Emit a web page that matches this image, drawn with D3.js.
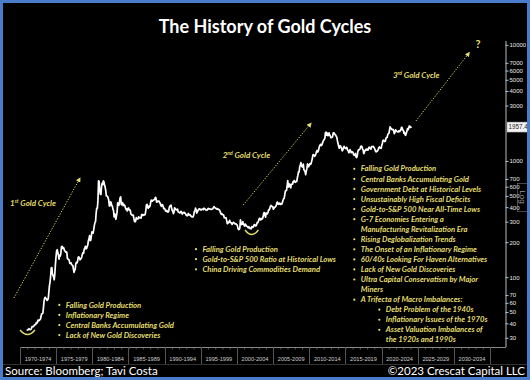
<!DOCTYPE html>
<html><head><meta charset="utf-8">
<script src="https://cdn.jsdelivr.net/npm/d3@7/dist/d3.min.js"></script>
<style>
html,body{margin:0;padding:0;background:#000;}
svg{display:block;}
</style></head><body>
<svg id="chart" width="530" height="380"></svg>
<script>
// ---------- DATA ----------
const periods = ['1970-1974','1975-1979','1980-1984','1985-1989','1990-1994','1995-1999','2000-2004','2005-2009','2010-2014','2015-2019','2020-2024','2025-2029','2030-2034'];
const yTickValues = [30,40,50,60,70,100,200,300,400,500,600,700,1000,3000,4000,5000,6000,7000,10000];
const lastValue = 1957.44;
// monthly gold price (USD/oz), starting Jan of the first year of each decade
const gold1970s = [
34.9,35.0,35.1,35.6,35.9,35.4,35.3,35.4,36.2,37.5,37.4,37.4,
37.9,38.7,38.9,39.0,40.5,40.1,41.0,42.7,42.0,42.5,42.9,43.5,
46.0,48.3,48.3,49.0,54.6,62.1,65.7,67.0,65.5,64.9,62.9,63.9,
65.1,74.2,84.4,90.5,102.0,120.1,120.5,106.8,103.0,100.1,94.8,106.7,
129.2,150.2,168.4,172.2,163.3,154.1,143.0,154.6,151.8,158.8,181.7,183.9,
176.3,179.6,178.2,169.9,167.4,164.2,165.2,163.1,144.1,142.8,142.2,139.3,
131.1,131.0,132.5,128.3,126.4,125.8,117.7,109.9,114.2,116.7,130.3,133.8,
132.3,136.4,148.4,149.2,146.7,140.8,143.4,144.4,149.1,158.0,162.1,160.4,
173.1,178.1,183.7,175.1,176.3,183.7,188.7,206.2,212.5,227.3,206.1,207.8,
227.3,245.7,242.1,239.2,257.6,279.1,294.7,300.8,355.2,391.7,392.5,455.1];
const gold1980s = [
675.3,665.3,553.6,517.4,513.8,600.7,644.3,626.5,673.6,661.1,623.5,594.9,
557.6,500.5,498.9,494.9,479.7,460.8,409.3,410.2,443.6,437.8,413.4,410.1,
384.2,374.2,330.2,350.5,333.8,314.9,338.6,364.3,435.2,422.2,414.1,444.3,
481.4,490.4,419.7,432.8,438.4,412.9,422.7,416.2,411.8,393.6,381.7,388.0,
370.9,386.2,394.3,381.2,377.6,377.6,347.7,347.7,341.1,340.2,341.2,320.2,
302.7,299.2,304.3,324.7,316.3,316.9,317.1,330.0,323.3,325.0,325.3,322.1,
345.4,338.9,345.7,340.4,342.6,342.6,348.2,376.5,418.0,423.1,398.6,391.3,
408.3,401.1,408.9,438.4,460.1,449.7,450.5,460.2,460.0,465.4,467.4,486.3,
477.0,442.1,443.6,451.7,451.2,451.3,437.4,432.7,413.4,406.7,420.1,418.7,
404.0,388.0,390.2,384.1,371.1,367.6,375.0,365.4,362.0,366.7,394.3,409.4];
const gold1990s = [
410.1,416.8,393.1,374.3,369.1,352.3,362.5,394.7,389.3,380.8,381.8,378.2,
383.6,363.8,363.3,358.4,356.8,366.7,367.7,356.3,348.7,358.7,359.9,361.3,
354.5,353.9,344.3,338.6,337.2,340.8,353.1,342.9,345.4,344.4,335.0,334.8,
329.0,329.3,330.1,342.2,367.2,371.9,392.0,378.9,355.3,364.2,373.8,383.3,
386.9,381.9,384.1,377.3,381.4,385.6,385.5,380.4,391.6,389.8,384.4,379.3,
378.6,376.5,382.1,391.0,385.2,387.6,386.2,383.7,383.1,383.1,385.5,387.4,
399.5,404.8,396.2,392.9,392.0,385.3,383.5,387.5,383.1,381.1,377.9,369.3,
354.1,346.6,351.8,344.5,343.8,340.8,324.1,323.8,322.8,325.0,306.0,288.7,
289.1,297.5,295.9,308.4,299.4,292.3,292.9,284.1,289.0,295.9,294.1,291.6,
287.1,287.3,285.9,282.6,276.4,261.3,256.1,256.7,264.7,310.7,293.2,283.1];
const gold2000s = [
284.6,299.9,286.4,280.0,275.3,285.7,281.6,274.5,273.7,270.0,266.0,271.5,
265.5,261.9,263.0,260.5,272.4,270.2,268.0,272.4,283.4,283.1,276.2,275.9,
281.7,295.5,294.0,302.7,314.5,321.2,313.3,310.3,319.2,316.6,319.2,333.4,
356.9,359.0,340.6,328.2,355.7,356.4,351.0,359.8,378.9,378.9,389.9,407.6,
414.0,405.3,406.7,403.0,383.8,392.4,398.1,400.5,405.3,420.5,439.4,442.1,
424.0,423.4,434.2,428.9,421.9,430.7,424.5,437.9,456.0,469.9,476.7,509.8,
549.9,555.0,557.1,610.7,676.5,596.2,633.8,632.6,598.2,585.8,627.8,629.8,
631.2,664.8,654.9,679.4,666.9,655.5,665.3,665.4,712.7,754.6,806.3,803.2,
889.6,922.3,968.4,909.7,888.7,889.5,939.8,839.0,829.9,806.6,760.9,816.1,
858.7,943.2,924.3,890.2,928.6,945.7,934.2,949.4,996.6,1043.2,1127.0,1134.7];
const gold2010s = [
1117.9,1095.4,1113.3,1148.7,1205.4,1232.9,1193.0,1215.8,1271.0,1342.0,1369.9,1390.6,
1356.4,1372.7,1424.0,1473.8,1510.4,1528.7,1572.8,1755.8,1771.9,1665.2,1738.9,1652.3,
1656.1,1742.6,1673.8,1650.1,1585.5,1596.7,1594.3,1630.3,1744.5,1746.6,1721.6,1684.8,
1671.9,1627.6,1593.1,1487.9,1414.0,1343.4,1285.5,1351.7,1348.6,1316.6,1275.8,1221.5,
1244.3,1299.6,1336.1,1298.5,1287.5,1279.1,1310.6,1295.1,1236.6,1222.5,1176.3,1200.4,
1250.8,1227.1,1178.6,1198.9,1198.6,1181.5,1130.7,1117.9,1124.8,1159.3,1086.4,1068.3,
1097.4,1199.5,1245.1,1242.3,1260.9,1276.4,1336.7,1340.2,1326.6,1266.6,1238.4,1157.4,
1192.1,1234.2,1231.1,1266.9,1246.0,1260.3,1236.8,1283.0,1314.1,1279.5,1281.9,1264.5,
1331.3,1330.7,1324.7,1334.8,1303.5,1281.6,1237.7,1201.7,1198.4,1215.4,1220.7,1250.4,
1291.8,1320.1,1300.9,1285.9,1283.7,1359.0,1412.9,1500.4,1510.6,1494.8,1470.0,1479.1];
const gold2020s = [
1560.7,1597.1,1591.9,1683.2,1715.9,1732.2,1846.5,1968.6,1921.9,1900.3,1866.3,1858.4,
1867.0,1808.2,1718.2,1760.0,1850.3,1834.6,1807.8,1785.3,1775.1,1776.9,1821.4,1790.4,
1816.8,1856.3,1947.8,1936.9,1848.5,1836.6,1732.7,1764.6,1680.7,1664.5,1725.6,1797.6,
1898.0,1854.2,1912.7,1999.9,1991.8,1942.9,1951.0,1957.44];

// Annotation texts
const leftNotes = ['Falling Gold Production','Inflationary Regime','Central Banks Accumulating Gold','Lack of New Gold Discoveries'];
const midNotes = ['Falling Gold Production','Gold-to-S&P 500 Ratio at Historical Lows','China Driving Commodities Demand'];
const rightNotes = [
 {text:'Falling Gold Production', level:0, bullet:true},
 {text:'Central Banks Accumulating Gold', level:0, bullet:true},
 {text:'Government Debt at Historical Levels', level:0, bullet:true},
 {text:'Unsustainably High Fiscal Deficits', level:0, bullet:true},
 {text:'Gold-to-S&P 500 Near All-Time Lows', level:0, bullet:true},
 {text:'G-7 Economies Entering a', level:0, bullet:true},
 {text:'Manufacturing Revitalization Era', level:0, bullet:false},
 {text:'Rising Deglobalization Trends', level:0, bullet:true},
 {text:'The Onset of an Inflationary Regime', level:0, bullet:true},
 {text:'60/40s Looking For Haven Alternatives', level:0, bullet:true},
 {text:'Lack of New Gold Discoveries', level:0, bullet:true},
 {text:'Ultra Capital Conservatism by Major', level:0, bullet:true},
 {text:'Miners', level:0, bullet:false},
 {text:'A Trifecta of Macro Imbalances:', level:0, bullet:true},
 {text:'Debt Problem of the 1940s', level:1, bullet:true},
 {text:'Inflationary Issues of the 1970s', level:1, bullet:true},
 {text:'Asset Valuation Imbalances of', level:1, bullet:true},
 {text:'the 1920s and 1990s', level:1, bullet:false}
];
// Cycle labels and arrows, in chart coordinates [year, price]
const cycleLabels = [
 {n:'1', sup:'st', at:[1967.68, 410]},
 {n:'2', sup:'nd', at:[1997.28, 1061]},
 {n:'3', sup:'rd', at:[2020.98, 5187]}
];
const cycleArrows = [
 [[1968.23, 66.1],[1977.42, 713]],
 [[2000.15, 418],[2009.57, 2113]],
 [[2024.18, 2211],[2031.60, 8567]]
];
const questionAt = [2032.81, 9310];
const smiles = [ {at:[1970.11, 35.0], half:7.5}, {at:[2001.32, 254.5], half:6.7} ];
const noteAnchors = { left:[1974.40, 54.7], mid:[1993.42, 165.2], right:[2015.46, 812] };

// ---------- SETUP ----------
const W = 530, H = 380;
const YEL = '#e4de70';
const svg = d3.select('#chart');
svg.append('rect').attr('width', W).attr('height', H).attr('fill', '#000');

const series = [];
[[1970,gold1970s],[1980,gold1980s],[1990,gold1990s],[2000,gold2000s],[2010,gold2010s],[2020,gold2020s]]
  .forEach(([y0, arr]) => arr.forEach((v, i) => series.push({t: y0 + i/12, v})));

const xBand = d3.scaleBand().domain(periods).range([20, 490]);
const xYear = d3.scaleLinear().domain([1970, 2035]).range([20, 490]);
const xT = d3.scaleLinear().domain([1970, 2035]).range([26.7, 493.7]);
const y = d3.scaleLog().domain([25, 11000]).range([347, 40]);

// ---------- TITLE ----------
svg.append('text').attr('x', 265).attr('y', 33).attr('text-anchor', 'middle')
  .attr('font-family', 'Lato').attr('font-weight', 'bold').attr('font-size', 18)
  .attr('fill', '#fff').text('The History of Gold Cycles');

// ---------- X AXIS ----------
const xg = svg.append('g');
xg.append('line').attr('x1', 20).attr('x2', 506).attr('y1', 347.5).attr('y2', 347.5).attr('stroke', '#888').attr('stroke-width', 1);
xg.selectAll('line.minor').data(d3.range(1970, 2036)).join('line').attr('class','minor')
  .attr('x1', d => xYear(d) + 0.5).attr('x2', d => xYear(d) + 0.5).attr('y1', 347).attr('y2', 349.5)
  .attr('stroke', '#888').attr('stroke-width', 0.6);
xg.selectAll('line.sep').data(periods.concat(['end'])).join('line').attr('class','sep')
  .attr('x1', (d,i) => Math.round(20 + i*xBand.step()) + 0.5)
  .attr('x2', (d,i) => Math.round(20 + i*xBand.step()) + 0.5)
  .attr('y1', 347).attr('y2', 364).attr('stroke', '#555').attr('stroke-width', 1);
xg.selectAll('text').data(periods).join('text')
  .attr('x', d => xBand(d) + xBand.bandwidth()/2).attr('y', 361)
  .attr('text-anchor', 'middle').attr('font-family', 'Liberation Sans').attr('font-size', 5.6)
  .attr('fill', '#cfcfcf').text(d => d);

// ---------- Y AXIS ----------
const yAxis = d3.axisRight(y).tickValues(yTickValues).tickFormat(d3.format('d')).tickSize(3).tickPadding(1);
const yg = svg.append('g').attr('transform', 'translate(505.5,0)').call(yAxis);
yg.select('.domain').attr('stroke', '#bbb').attr('d', `M0.5,${y.range()[1]+1}V${y.range()[0]}`);
yg.selectAll('.tick line').attr('stroke', '#bbb');
yg.selectAll('.tick text').attr('fill', '#e8e8e8').attr('font-family', 'Liberation Sans').attr('font-size', 6);
// last value box
const ly = y(lastValue);
svg.append('rect').attr('x', 507).attr('y', ly - 5).attr('width', 24).attr('height', 10)
  .attr('fill', '#f2f2f2').attr('stroke', '#999').attr('stroke-width', 0.5);
svg.append('text').attr('x', 508.5).attr('y', ly + 2.2).attr('font-family', 'Liberation Sans')
  .attr('font-size', 6.3).attr('fill', '#222').text(lastValue.toFixed(2));
// Log label
svg.append('rect').attr('x', 517.5).attr('y', 183.5).attr('width', 10).attr('height', 28)
  .attr('fill', 'none').attr('stroke', '#777').attr('stroke-width', 0.6);
svg.append('text').attr('transform', 'translate(519.5,197) rotate(90)').attr('text-anchor', 'middle')
  .attr('font-family', 'Liberation Sans').attr('font-size', 8).attr('fill', '#999').text('Log');

// ---------- LINE ----------
svg.append('path').datum(series)
  .attr('d', d3.line().x(d => xT(d.t)).y(d => y(d.v)))
  .attr('fill', 'none').attr('stroke', '#fff').attr('stroke-width', 1.7).attr('stroke-linejoin', 'round');

// ---------- ANNOTATIONS ----------
const defs = svg.append('defs');
defs.append('marker').attr('id', 'ah').attr('viewBox', '0 0 10 10').attr('refX', 8).attr('refY', 5)
  .attr('markerWidth', 5).attr('markerHeight', 5).attr('markerUnits', 'userSpaceOnUse').attr('orient', 'auto')
  .append('path').attr('d', 'M0,0L10,5L0,10Z').attr('fill', YEL);

svg.selectAll('line.arrow').data(cycleArrows).join('line').attr('class', 'arrow')
  .attr('x1', d => xT(d[0][0])).attr('y1', d => y(d[0][1]))
  .attr('x2', d => xT(d[1][0])).attr('y2', d => y(d[1][1]))
  .attr('stroke', YEL).attr('stroke-width', 1).attr('stroke-dasharray', '1.2,1.6')
  .attr('marker-end', 'url(#ah)');

const labG = svg.selectAll('text.cyc').data(cycleLabels).join('text').attr('class', 'cyc')
  .attr('x', d => xT(d.at[0])).attr('y', d => y(d.at[1]))
  .attr('font-family', 'Lato').attr('font-style', 'italic').attr('font-weight', 'bold')
  .attr('font-size', 8).attr('fill', YEL);
labG.append('tspan').text(d => d.n);
labG.append('tspan').attr('dy', -3).attr('font-size', 5).text(d => d.sup);
labG.append('tspan').attr('dy', 3).text(' Gold Cycle');

svg.append('text').attr('x', xT(questionAt[0])).attr('y', y(questionAt[1])).attr('text-anchor', 'middle')
  .attr('font-family', 'Lato').attr('font-weight', 'bold').attr('font-size', 11).attr('fill', YEL).text('?');

svg.selectAll('path.smile').data(smiles).join('path').attr('class', 'smile')
  .attr('d', d => { const cx = xT(d.at[0]), cy = y(d.at[1]);
     return `M${cx - d.half},${cy}Q${cx},${cy + 9} ${cx + d.half},${cy}`; })
  .attr('fill', 'none').attr('stroke', YEL).attr('stroke-width', 1.4);

function noteList(items, anchor) {
  const bx = xT(anchor[0]), by = y(anchor[1]);
  const g = svg.append('g').attr('font-family', 'Lato').attr('font-style', 'italic')
     .attr('font-weight', 'bold').attr('font-size', 7.7).attr('fill', YEL);
  items.forEach((it, i) => {
    const o = typeof it === 'string' ? {text: it, level: 0, bullet: true} : it;
    const ind = o.level * 25;
    const yy = by + i * 10.06;
    if (o.bullet) g.append('circle').attr('cx', bx + ind + 1).attr('cy', yy - 2.6).attr('r', 1.1);
    g.append('text').attr('x', bx + ind + 7.5).attr('y', yy).text(o.text);
  });
}
noteList(leftNotes, noteAnchors.left);
noteList(midNotes, noteAnchors.mid);
noteList(rightNotes, noteAnchors.right);

// ---------- FOOTER ----------
svg.append('line').attr('x1', 3).attr('x2', 527).attr('y1', 364.5).attr('y2', 364.5).attr('stroke', '#333');
svg.append('text').attr('x', 5).attr('y', 374.5).attr('font-family', 'Lato').attr('font-size', 11.5)
  .attr('fill', '#fff').text('Source: Bloomberg; Tavi Costa');
svg.append('text').attr('x', 525).attr('y', 374.5).attr('text-anchor', 'end').attr('font-family', 'Lato')
  .attr('font-size', 11.5).attr('fill', '#fff').text('\u00A92023 Crescat Capital LLC');

// ---------- BORDER ----------
svg.append('rect').attr('x', 1.5).attr('y', 1.5).attr('width', W - 3).attr('height', H - 3)
  .attr('fill', 'none').attr('stroke', '#4a7ccc').attr('stroke-width', 3);
</script>
</body></html>
